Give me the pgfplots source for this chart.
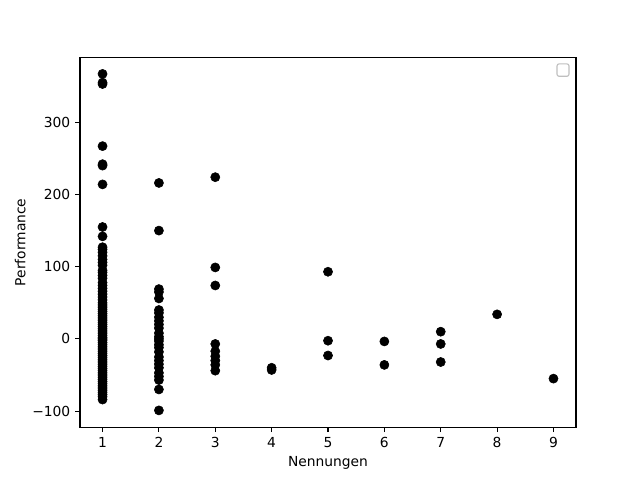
\documentclass[border=0pt]{standalone}
\usepackage{pgfplots}
\pgfplotsset{compat=1.18}
\usepackage{fontspec}
\setmainfont{DejaVu Sans}
\begin{document}
\begin{tikzpicture}
\begin{axis}[
  scale only axis,
  width=4.96in, height=3.696in,
  xmin=0.6, xmax=9.4,
  ymin=-122.3, ymax=389.6,
  xtick={1,...,9},
  ytick={-100,0,100,200,300},
  yticklabels={−100,0,100,200,300},
  tick align=outside,
  xtick pos=bottom, ytick pos=left,
  major tick length=3.5pt,
  every tick/.style={black, line width=0.8pt},
  axis line style={line width=0.8pt},
  /pgf/number format/assume math mode=true,
  tick label style={font=\fontsize{10}{12}\selectfont},
  label style={font=\fontsize{10}{12}\selectfont},
  xlabel={Nennungen},
  ylabel={Performance},
  xlabel style={yshift=0pt},
  ylabel style={yshift=-2pt},
]
\addplot[only marks, mark=*, mark size=3.3pt, black] coordinates {
(1,367) (1,355) (1,353) (1,267) (1,242) (1,240) (1,214) (1,155) (1,142)
(1,127) (1,124) (1,120) (1,115) (1,110) (1,106) (1,102) (1,95) (1,92) (1,88)
(1,84) (1,78) (1,74) (1,70) (1,66) (1,62) (1,58) (1,54) (1,50) (1,47) (1,44)
(1,41) (1,38) (1,35) (1,32) (1,29) (1,26) (1,23) (1,20) (1,17) (1,14) (1,11)
(1,8) (1,5) (1,2) (1,0) (1,-2) (1,-5) (1,-8) (1,-11) (1,-14) (1,-17) (1,-20)
(1,-23) (1,-26) (1,-29) (1,-32) (1,-35) (1,-38) (1,-41) (1,-44) (1,-47)
(1,-50) (1,-53) (1,-56) (1,-59) (1,-62) (1,-65) (1,-68) (1,-71) (1,-74)
(1,-77) (1,-80) (1,-84)
(2,216) (2,150) (2,69) (2,65) (2,56) (2,40) (2,36) (2,30) (2,25) (2,20)
(2,15) (2,8) (2,3) (2,0) (2,-3) (2,-8) (2,-12) (2,-18) (2,-25) (2,-30)
(2,-35) (2,-40) (2,-47) (2,-52) (2,-57) (2,-70) (2,-99)
(3,224) (3,99) (3,74) (3,-7) (3,-17) (3,-24) (3,-30) (3,-36) (3,-44)
(4,-40) (4,-43)
(5,93) (5,-2.5) (5,-23)
(6,-3.5) (6,-36)
(7,10) (7,-7) (7,-32)
(8,34)
(9,-55)
};
\draw[black!25, line width=0.8pt, rounded corners=1.5pt]
  ([xshift=-0.19in,yshift=-0.063in]rel axis cs:1,1) rectangle ([xshift=-0.07in,yshift=-0.187in]rel axis cs:1,1);
\end{axis}
\path ([xshift=-0.8in,yshift=-0.528in]current axis.south west) ([xshift=0.64in,yshift=0.576in]current axis.north east);
\end{tikzpicture}
\end{document}
